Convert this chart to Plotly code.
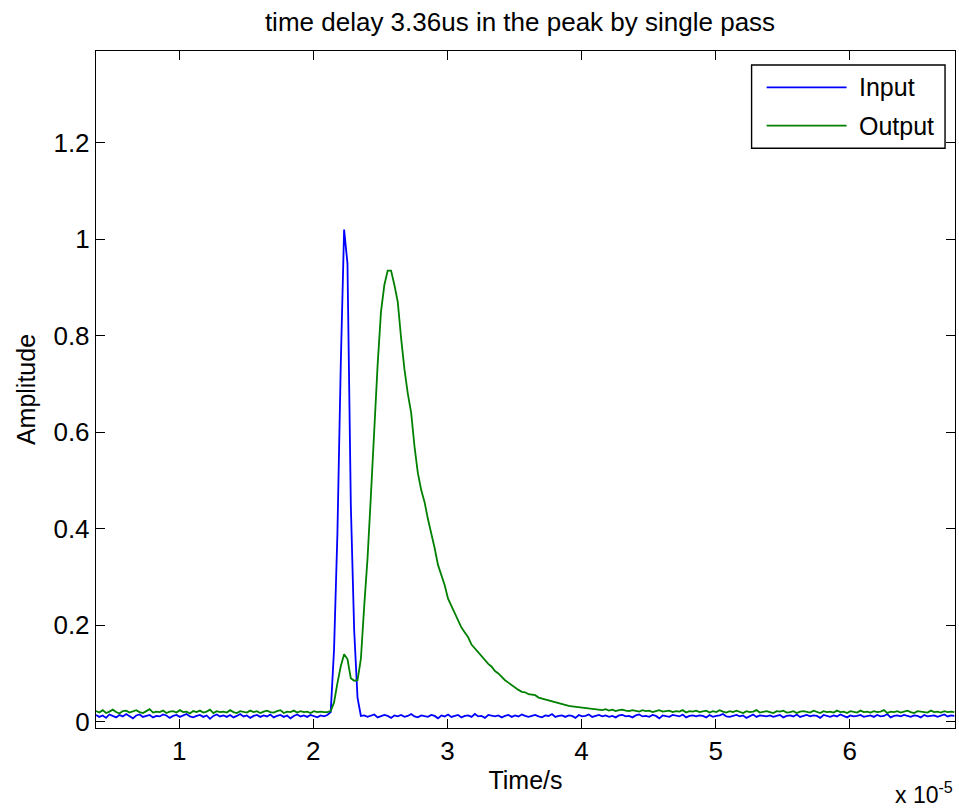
import numpy as np
import plotly.graph_objects as go

# sample times, in units of 1e-5 s (uniform acquisition grid)
t_start = 0.38
t_step = 0.025
n_samples = 257

# amplitudes in thousandths
input_amp = [
    14, 10, 13, 8, 15, 12, 9, 14, 11, 16,
    12, 7, 13, 15, 10, 12, 14, 9, 12, 11,
    15, 13, 8, 12, 14, 10, 13, 16, 11, 9,
    12, 14, 10, 13, 6, 12, 15, 11, 13, 10,
    14, 9, 12, 16, 11, 13, 8, 12, 14, 10,
    13, 11, 15, 9, 12, 14, 10, 13, 7, 12,
    15, 11, 13, 10, 14, 12, 9, 13, 11, 14,
    20, 150, 390, 740, 1020, 950, 450, 190, 50, 12,
    13, 10, 12, 15, 9, 11, 14, 12, 8, 13,
    11, 14, 10, 12, 16, 11, 9, 13, 12, 10,
    14, 12, 7, 13, 11, 15, 10, 12, 14, 9,
    12, 13, 10, 16, 11, 12, 8, 14, 12, 11,
    13, 9, 12, 14, 10, 13, 11, 15, 12, 10,
    12, 14, 11, 9, 13, 12, 16, 10, 12, 13,
    10, 13, 12, 8, 14, 11, 12, 15, 10, 12,
    14, 11, 13, 10, 12, 9, 13, 14, 11, 12,
    9, 13, 15, 11, 12, 10, 14, 12, 7, 13,
    12, 10, 14, 13, 11, 15, 9, 12, 13, 11,
    13, 12, 9, 14, 10, 12, 13, 16, 11, 10,
    12, 14, 11, 13, 8, 12, 15, 10, 13, 12,
    11, 13, 10, 12, 14, 9, 12, 13, 11, 15,
    10, 12, 14, 11, 13, 12, 8, 14, 12, 10,
    13, 11, 15, 12, 9, 13, 11, 12, 14, 10,
    12, 13, 10, 14, 11, 12, 16, 9, 12, 13,
    11, 14, 12, 10, 13, 12, 9, 14, 11, 12,
    13, 10, 12, 15, 11, 13, 12,
]

output_amp = [
    22, 19, 24, 18, 21, 25, 20, 17, 22, 23,
    19, 21, 24, 20, 18, 22, 26, 19, 21, 20,
    23, 18, 21, 22, 19, 24, 20, 21, 17, 22,
    20, 23, 19, 21, 25, 18, 22, 20, 21, 19,
    24, 20, 18, 22, 21, 19, 23, 20, 22, 18,
    21, 23, 20, 19, 22, 24, 18, 21, 20, 23,
    19, 22, 20, 21, 18, 22, 20, 21,
    20, 20,
    22, 40, 80, 115, 140, 130, 90, 85, 86, 130,
    240, 340, 470, 620, 740, 850, 905, 935, 935, 905,
    870, 795, 730, 680, 640, 570, 515, 480, 455, 420,
    392, 360, 325, 305, 283, 255, 240, 225, 210, 195,
    185, 175, 160, 152, 145, 135, 127, 120, 114, 105,
    100, 92, 86, 81, 76, 70, 66, 62, 61, 57,
    56, 55, 50, 48, 47, 45, 43, 40, 38, 36,
    35, 33, 32, 31, 30, 29, 28, 27, 26, 26,
    25,
    24, 26, 23, 25, 22, 24, 25, 23, 22, 24,
    23, 21, 24, 22, 23, 20, 22, 24, 21, 22,
    23, 20, 22, 21, 24, 19, 22, 21, 23, 20,
    21, 23, 19, 22, 20, 24, 21, 19, 22, 20,
    23, 21, 18, 22, 20, 21, 24, 19, 21, 22,
    20, 18, 22, 21, 23, 19, 20, 22, 18, 21,
    22, 20, 19, 23, 21, 18, 22, 20, 21, 19,
    23, 20, 21, 18, 22, 21, 19, 23, 20, 21,
    19, 22, 20, 21, 24, 18, 21, 20, 22, 19,
    21, 23, 20, 18, 22, 21, 20, 19, 23, 20,
    21, 19, 22, 20, 21, 20,
]

y_ticks = [0, 0.2, 0.4, 0.6, 0.8, 1, 1.2]
x_ticks = [1, 2, 3, 4, 5, 6]

time_s = (t_start + t_step * np.arange(n_samples)) * 1e-5
input_y = np.array(input_amp) / 1000.0
output_y = np.array(output_amp) / 1000.0

FONT = "Liberation Sans, Arial, sans-serif"
BLUE = "#0000ff"
GREEN = "#008000"

fig = go.Figure()
fig.add_trace(go.Scatter(x=time_s, y=input_y, mode="lines", name="Input",
                         line=dict(color=BLUE, width=1.8)))
fig.add_trace(go.Scatter(x=time_s, y=output_y, mode="lines", name="Output",
                         line=dict(color=GREEN, width=1.8)))

axis_common = dict(
    showline=True,
    linecolor="black",
    linewidth=1.4,
    mirror="ticks",
    ticks="inside",
    ticklen=9,
    tickwidth=1.4,
    tickcolor="black",
    showgrid=False,
    zeroline=False,
    automargin=False,
    tickfont=dict(family=FONT, size=26, color="black"),
)

fig.update_layout(
    width=959,
    height=810,
    margin=dict(l=96, r=4, t=51, b=82),
    plot_bgcolor="white",
    paper_bgcolor="white",
    showlegend=False,
    font=dict(family=FONT, color="black"),
    title=dict(
        text="time delay 3.36us in the peak by single pass",
        x=520 / 959,
        xanchor="center",
        y=1 - 22 / 810,
        yanchor="middle",
        font=dict(family=FONT, size=26, color="black"),
    ),
    xaxis=dict(
        **axis_common,
        range=[0.38e-5, 6.785e-5],
        tickvals=[v * 1e-5 for v in x_ticks],
        ticktext=[str(v) for v in x_ticks],
        title=dict(text="Time/s", font=dict(family=FONT, size=25, color="black"), standoff=6),
    ),
    yaxis=dict(
        **axis_common,
        range=[-0.013, 1.39],
        tickvals=y_ticks,
        ticktext=[("%g" % v) for v in y_ticks],
        title=dict(text="Amplitude", font=dict(family=FONT, size=25, color="black"), standoff=10),
    ),
)

# exponent label for the x axis, MATLAB style
fig.add_annotation(
    text="x 10<sup>-5</sup>", xref="paper", yref="paper", x=1.0, y=-0.096,
    xanchor="right", yanchor="middle", showarrow=False,
    font=dict(family=FONT, size=23, color="black"),
)

# legend box drawn like MATLAB's (long sample lines)
legend_rows = [("Input", BLUE, 0.9464), ("Output", GREEN, 0.8897)]
fig.add_shape(type="rect", xref="paper", yref="paper",
              x0=0.7632, x1=0.9884, y0=0.8563, y1=0.9793,
              line=dict(color="black", width=1.4), fillcolor="white")
for label, color, ypos in legend_rows:
    fig.add_shape(type="line", xref="paper", yref="paper",
                  x0=0.7807, x1=0.8738, y0=ypos, y1=ypos,
                  line=dict(color=color, width=1.8))
    fig.add_annotation(text=label, xref="paper", yref="paper", x=0.8855, y=ypos,
                       xanchor="left", yanchor="middle", showarrow=False,
                       font=dict(family=FONT, size=25, color="black"))

# drop the default page margin so the figure sits at the window's corner
fig.write_html("out.html", config={"displayModeBar": False},
               post_script="document.body.style.margin = '0';")
